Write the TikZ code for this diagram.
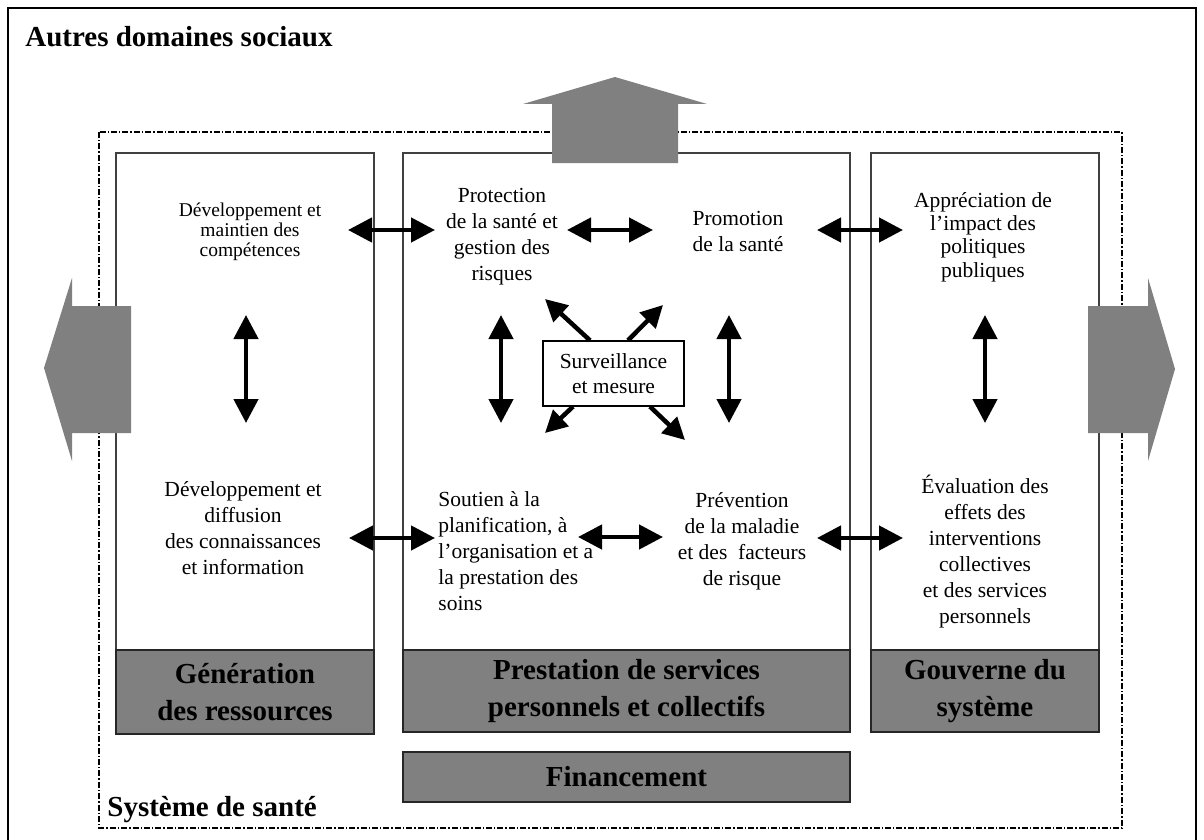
\documentclass[tikz,border=0pt]{standalone}
\usepackage{fontspec}
\setmainfont{Liberation Serif}
\usepackage{xcolor}
\usepackage{tikz}
\usetikzlibrary{arrows.meta, positioning}
\definecolor{boxgray}{RGB}{128,128,128}

\begin{document}
\begin{tikzpicture}[x=0.5pt, y=-0.5pt,
    txt/.style={align=center, inner sep=0pt, font=\fontsize{10.75}{13}\selectfont},
    lbl/.style={fill=boxgray, draw=black!85, line width=0.6pt, align=center, inner sep=0pt,
                font=\bfseries\fontsize{14.5}{18.5}\selectfont},
    ttl/.style={anchor=west, inner sep=0pt, font=\bfseries\fontsize{14.5}{17}\selectfont},
    dbl/.style={{Triangle[length=12pt,width=12pt]}-{Triangle[length=12pt,width=12pt]}, line width=2.25pt},
    sgl/.style={-{Triangle[length=11pt,width=11pt]}, line width=2.25pt},
    bigarrow/.style={fill=boxgray, draw=none},
  ]
    \useasboundingbox (0,0) rectangle (1204,840);

    % cadres
    \draw[line width=1pt] (8,8) rectangle (1196,842);
    \draw[line width=0.7pt, densely dashdotted] (99,132) rectangle (1122,828);
    \draw[black!75, line width=0.6pt] (116,153) rectangle (374,734);
    \draw[black!75, line width=0.6pt] (403,153) rectangle (850,732);
    \draw[black!75, line width=0.6pt] (871,153) rectangle (1099,732);

    \node[ttl] (autres) at (25,37) {Autres domaines sociaux};
    \node[ttl] (sys) at (107,810) {Système de santé};

    % grosses fleches
    \fill[bigarrow] (552,163) -- (552,104) -- (523,104) -- (615,77) -- (707,104) -- (678,104) -- (678,163) -- cycle;
    \fill[bigarrow] (131,306) -- (72,306) -- (72,278) -- (44,368) -- (72,461) -- (72,433) -- (131,433) -- cycle;
    \fill[bigarrow] (1088,306) -- (1148,306) -- (1148,278) -- (1175,369) -- (1148,461) -- (1148,433) -- (1088,433) -- cycle;

    % libelles gris
    \node[lbl, minimum width=129pt, minimum height=42pt] (gen) at (245,692) {Génération\\des ressources};
    \node[lbl, minimum width=223.5pt, minimum height=41pt] (prest) at (626.5,691) {Prestation de services\\personnels et collectifs};
    \node[lbl, minimum width=114pt, minimum height=41pt] (gouv) at (985,691) {Gouverne du\\système};
    \node[lbl, minimum width=223.5pt, minimum height=25pt] (fin) at (626.5,777) {Financement};

    % fonctions
    \node[txt, font=\fontsize{9.75}{10}\selectfont] (devcomp) at (250,232) {Développement et\\maintien des\\compétences};
    \node[txt] (devdiff) at (243,528) {Développement et\\diffusion\\des connaissances\\et information};
    \node[txt] (prot) at (502,237) {Protection\\de la santé et\\gestion des\\risques};
    \node[txt] (promo) at (738,231) {Promotion\\de la santé};
    \node[txt, font=\fontsize{10.75}{11.7}\selectfont] (apprec) at (983,237) {Appréciation de\\l’impact des\\politiques\\publiques};
    \node[txt, align=left, anchor=west] (soutien) at (438,551) {Soutien à la\\planification, à\\l’organisation et a\\la prestation des\\soins};
    \node[txt] (prev) at (742,541) {Prévention\\de la maladie\\et des\ \ facteurs\\de risque};
    \node[txt] (eval) at (985,552) {Évaluation des\\effets des\\interventions\\collectives\\et des services\\personnels};
    \node[draw, line width=0.6pt, fill=white, txt, font=\fontsize{10.75}{12.5}\selectfont,
          minimum width=70.5pt, minimum height=32.5pt] (surv) at (613.5,373.5) {Surveillance\\et mesure};

    % bouts des fleches
    \coordinate (h1a) at (348,230); \coordinate (h1b) at (435,230);
    \coordinate (h2a) at (567,230); \coordinate (h2b) at (653,230);
    \coordinate (h3a) at (817,230); \coordinate (h3b) at (903,230);
    \coordinate (h4a) at (349,538); \coordinate (h4b) at (435,538);
    \coordinate (h5a) at (578,537); \coordinate (h5b) at (663,537);
    \coordinate (h6a) at (817,538); \coordinate (h6b) at (903,538);
    \coordinate (v1a) at (246,315); \coordinate (v1b) at (246,423);
    \coordinate (v2a) at (501,315); \coordinate (v2b) at (501,423);
    \coordinate (v3a) at (729,315); \coordinate (v3b) at (729,423);
    \coordinate (v4a) at (985,315); \coordinate (v4b) at (985,423);
    \coordinate (d1) at (545,299); \coordinate (d2) at (663,305);
    \coordinate (d3) at (545,433); \coordinate (d4) at (685,440);

    \path[dbl]
      (h1a) edge (h1b) (h2a) edge (h2b) (h3a) edge (h3b)
      (h4a) edge (h4b) (h5a) edge (h5b) (h6a) edge (h6b)
      (v1a) edge (v1b) (v2a) edge (v2b) (v3a) edge (v3b) (v4a) edge (v4b);

    \path[sgl]
      ([xshift=-11.75pt]surv.north) edge (d1)
      ([xshift=7.25pt]surv.north) edge (d2)
      ([xshift=-20.25pt]surv.south) edge (d3)
      ([xshift=18.25pt]surv.south) edge (d4);
\end{tikzpicture}
\end{document}
